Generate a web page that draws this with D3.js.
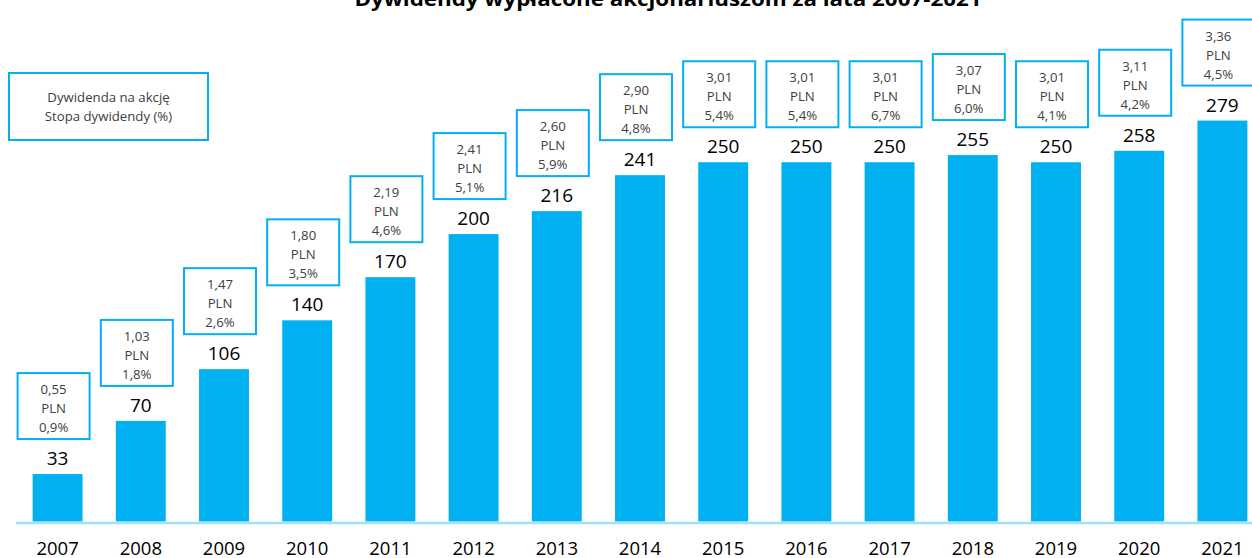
<!DOCTYPE html>
<html>
<head>
<meta charset="utf-8">
<script src="https://cdn.jsdelivr.net/npm/d3@7"></script>
<style>
  body { margin: 0; background: #fff; }
  svg { display: block; font-family: "Open Sans", sans-serif; }
</style>
</head>
<body>
<svg id="chart"></svg>
<script>
const years = ["2007", "2008", "2009", "2010", "2011", "2012", "2013", "2014",
  "2015", "2016", "2017", "2018", "2019", "2020", "2021"];
// total dividend paid (mln PLN)
const dividends = [33, 70, 106, 140, 170, 200, 216, 241, 250, 250, 250, 255, 250, 258, 279];
const perShare = ["0,55", "1,03", "1,47", "1,80", "2,19", "2,41", "2,60", "2,90",
  "3,01", "3,01", "3,01", "3,07", "3,01", "3,11", "3,36"];
const yieldPct = ["0,9%", "1,8%", "2,6%", "3,5%", "4,6%", "5,1%", "5,9%", "4,8%",
  "5,4%", "5,4%", "6,7%", "6,0%", "4,1%", "4,2%", "4,5%"];
const legendLines = ["Dywidenda na akcję", "Stopa dywidendy (%)"];
const title = "Dywidendy wypłacone akcjonariuszom za lata 2007-2021";

const width = 1252;
const height = 558;
const blue = "#00b0f0";

const svg = d3.select("#chart").attr("width", width).attr("height", height);

const x = d3.scaleBand().domain(years).range([16, 1264])
  .paddingInner(0.4).paddingOuter(0.2);
const y = d3.scaleLinear().domain([0, 300]).range([521.5, 90.4]);

// title (cut off at top like the original)
svg.append("text")
  .attr("x", 668).attr("y", 6)
  .attr("text-anchor", "middle")
  .attr("font-weight", "bold")
  .attr("font-size", 20)
  .attr("textLength", 627)
  .attr("lengthAdjust", "spacingAndGlyphs")
  .attr("fill", "#000")
  .text(title);

// bars
svg.selectAll("rect.bar")
  .data(dividends)
  .enter()
  .append("rect")
  .classed("bar", true)
  .attr("x", (d, i) => x(years[i]))
  .attr("y", d => y(d))
  .attr("width", x.bandwidth())
  .attr("height", d => y(0) - y(d))
  .attr("fill", blue);

// baseline
svg.append("line")
  .attr("x1", 16).attr("x2", width)
  .attr("y1", y(0) + 1.5).attr("y2", y(0) + 1.5)
  .attr("stroke", "#9fe1f9")
  .attr("stroke-width", 2.5);

// year labels
const xAxis = svg.append("g")
  .attr("transform", `translate(0,${y(0)})`)
  .call(d3.axisBottom(x).tickSize(0).tickPadding(0));
xAxis.select(".domain").remove();
xAxis.selectAll("text")
  .attr("y", 33)
  .attr("dy", 0)
  .attr("font-family", "Open Sans, sans-serif")
  .attr("font-size", 18.5)
  .attr("fill", "#000");

// value labels
svg.selectAll("text.val")
  .data(dividends)
  .enter()
  .append("text")
  .classed("val", true)
  .attr("x", (d, i) => x(years[i]) + x.bandwidth() / 2)
  .attr("y", d => y(d) - 9)
  .attr("text-anchor", "middle")
  .attr("font-size", 19)
  .attr("fill", "#000")
  .text(d => d);

// per-share / yield boxes
const boxW = 72;
const boxH = 66;
const boxes = svg.selectAll("g.box")
  .data(dividends)
  .enter()
  .append("g")
  .classed("box", true)
  .attr("transform", (d, i) => {
    const cx = x(years[i]) + x.bandwidth() / 2 - 4;
    const top = Math.max(y(d) - 35 - boxH, 12);
    return `translate(${cx - boxW / 2},${top})`;
  });

boxes.append("rect")
  .attr("width", boxW)
  .attr("height", boxH)
  .attr("fill", "#fff")
  .attr("stroke", blue)
  .attr("stroke-width", 2);

boxes.each(function (d, i) {
  const lines = [perShare[i], "PLN", yieldPct[i]];
  d3.select(this).selectAll("text")
    .data(lines)
    .enter()
    .append("text")
    .attr("x", boxW / 2)
    .attr("y", (t, j) => 21 + j * 19)
    .attr("text-anchor", "middle")
    .attr("font-size", 13.2)
    .attr("fill", "#404040")
    .text(t => t);
});

// legend box
const legend = svg.append("g").attr("transform", "translate(9,73)");
legend.append("rect")
  .attr("width", 199)
  .attr("height", 67)
  .attr("fill", "#fff")
  .attr("stroke", blue)
  .attr("stroke-width", 2);
legend.selectAll("text")
  .data(legendLines)
  .enter()
  .append("text")
  .attr("x", 99.5)
  .attr("y", (t, j) => 29 + j * 19)
  .attr("text-anchor", "middle")
  .attr("font-size", 13.2)
  .attr("fill", "#404040")
  .text(t => t);
</script>
</body>
</html>
